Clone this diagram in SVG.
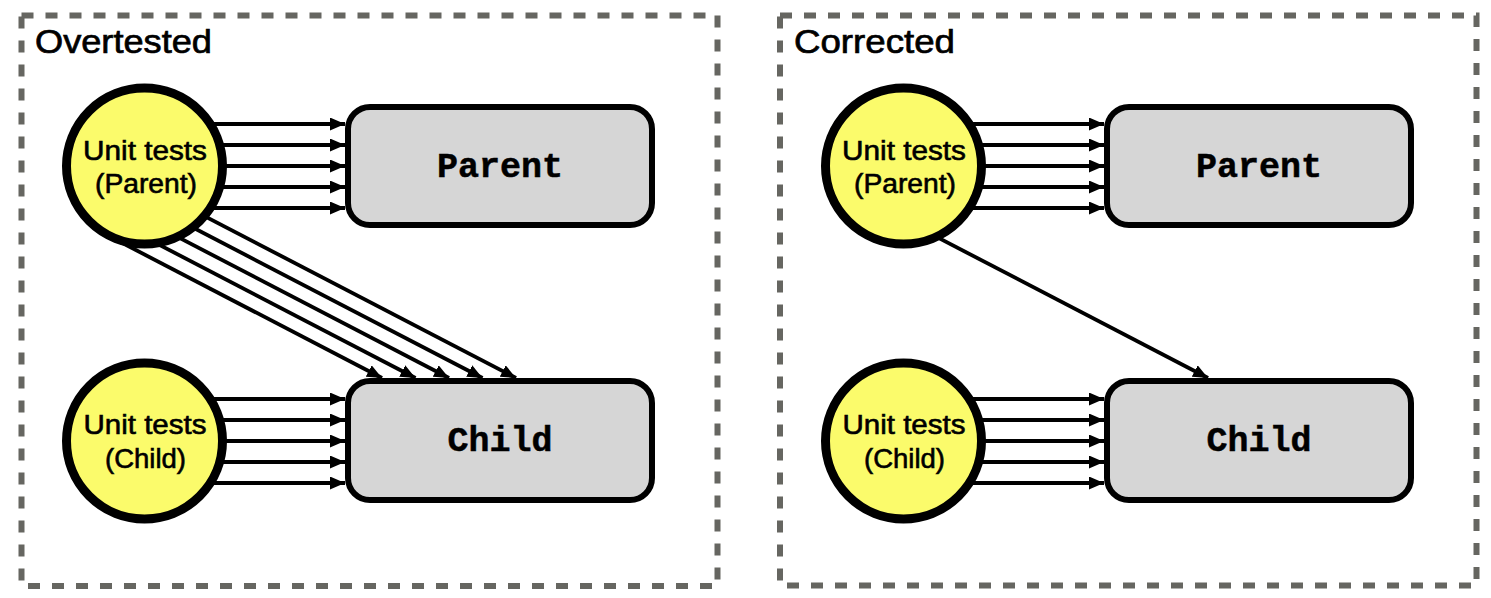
<svg xmlns="http://www.w3.org/2000/svg" width="1491" height="598" viewBox="0 0 1491 598">
  <style>
    .frame { fill: none; stroke: #666661; stroke-width: 6; stroke-dasharray: 12 12; }
    .title { font-family: "Liberation Sans", Arial, sans-serif; font-size: 33px; fill: #000; stroke: #000; stroke-width: 0.7; }
    .circ { fill: #fbfb6b; stroke: #000; stroke-width: 9; }
    .ctext { font-family: "Liberation Sans", Arial, sans-serif; font-size: 27px; fill: #000; stroke: #000; stroke-width: 0.6; text-anchor: middle; }
    .box { fill: #d6d6d6; stroke: #000; stroke-width: 6; }
    .btext { font-family: "Liberation Mono", "Courier New", monospace; font-size: 35px; font-weight: bold; fill: #000; stroke: #000; stroke-width: 0.5; text-anchor: middle; }
  </style>
  <defs>
    <marker id="arr" markerUnits="userSpaceOnUse" viewBox="0 0 15 13" markerWidth="15" markerHeight="13" refX="15" refY="6.5" orient="auto">
      <path d="M0,0 L15,6.5 L0,13 z" fill="#000"/>
    </marker>
  </defs>
  <rect width="1491" height="598" fill="#fff"/>

  <g id="frame-overtested">
    <rect class="frame" x="21.5" y="15.5" width="696" height="570.5"/>
    <text class="title" x="35" y="53" textLength="177" lengthAdjust="spacingAndGlyphs">Overtested</text>
  </g>
  <g id="frame-corrected">
    <rect class="frame" x="780" y="15.5" width="696.5" height="570"/>
    <text class="title" x="794" y="53" textLength="161" lengthAdjust="spacingAndGlyphs">Corrected</text>
  </g>

  <g id="connectors" stroke="#000" stroke-width="3.8" marker-end="url(#arr)">
    <line x1="200" y1="124" x2="345" y2="124"/>
    <line x1="200" y1="145" x2="345" y2="145"/>
    <line x1="200" y1="166" x2="345" y2="166"/>
    <line x1="200" y1="187" x2="345" y2="187"/>
    <line x1="200" y1="208" x2="345" y2="208"/>
    <line x1="108.5" y1="235.8" x2="382" y2="378"/>
    <line x1="115.6" y1="222.1" x2="415.5" y2="378"/>
    <line x1="122.8" y1="208.4" x2="449" y2="378"/>
    <line x1="129.9" y1="194.8" x2="482.5" y2="378"/>
    <line x1="137.1" y1="181.1" x2="516" y2="378"/>
    <line x1="200" y1="399" x2="345" y2="399"/>
    <line x1="200" y1="420" x2="345" y2="420"/>
    <line x1="200" y1="441" x2="345" y2="441"/>
    <line x1="200" y1="462" x2="345" y2="462"/>
    <line x1="200" y1="483" x2="345" y2="483"/>
    <line x1="959" y1="124" x2="1104" y2="124"/>
    <line x1="959" y1="145" x2="1104" y2="145"/>
    <line x1="959" y1="166" x2="1104" y2="166"/>
    <line x1="959" y1="187" x2="1104" y2="187"/>
    <line x1="959" y1="208" x2="1104" y2="208"/>
    <line x1="881.8" y1="208.4" x2="1208" y2="378"/>
    <line x1="959" y1="399" x2="1104" y2="399"/>
    <line x1="959" y1="420" x2="1104" y2="420"/>
    <line x1="959" y1="441" x2="1104" y2="441"/>
    <line x1="959" y1="462" x2="1104" y2="462"/>
    <line x1="959" y1="483" x2="1104" y2="483"/>
  </g>

  <g id="ut-parent-left">
    <circle class="circ" cx="144.5" cy="166" r="78"/>
    <text class="ctext" x="145" y="160" textLength="124" lengthAdjust="spacingAndGlyphs">Unit tests</text>
    <text class="ctext" x="146" y="193" textLength="102" lengthAdjust="spacingAndGlyphs">(Parent)</text>
  </g>
  <g id="ut-child-left">
    <circle class="circ" cx="144.5" cy="441" r="78"/>
    <text class="ctext" x="145" y="434" textLength="123" lengthAdjust="spacingAndGlyphs">Unit tests</text>
    <text class="ctext" x="145.5" y="468" textLength="81" lengthAdjust="spacingAndGlyphs">(Child)</text>
  </g>
  <g id="parent-left">
    <rect class="box" x="348" y="107" width="304" height="118" rx="22"/>
    <text class="btext" x="500" y="177">Parent</text>
  </g>
  <g id="child-left">
    <rect class="box" x="348" y="381" width="304" height="119" rx="22"/>
    <text class="btext" x="500" y="451">Child</text>
  </g>

  <g id="ut-parent-right">
    <circle class="circ" cx="903.5" cy="166" r="78"/>
    <text class="ctext" x="904" y="160" textLength="124" lengthAdjust="spacingAndGlyphs">Unit tests</text>
    <text class="ctext" x="905" y="193" textLength="102" lengthAdjust="spacingAndGlyphs">(Parent)</text>
  </g>
  <g id="ut-child-right">
    <circle class="circ" cx="903.5" cy="441" r="78"/>
    <text class="ctext" x="904" y="434" textLength="123" lengthAdjust="spacingAndGlyphs">Unit tests</text>
    <text class="ctext" x="904.5" y="468" textLength="81" lengthAdjust="spacingAndGlyphs">(Child)</text>
  </g>
  <g id="parent-right">
    <rect class="box" x="1107" y="107" width="304" height="118" rx="22"/>
    <text class="btext" x="1259" y="177">Parent</text>
  </g>
  <g id="child-right">
    <rect class="box" x="1107" y="381" width="304" height="119" rx="22"/>
    <text class="btext" x="1259" y="451">Child</text>
  </g>
</svg>
